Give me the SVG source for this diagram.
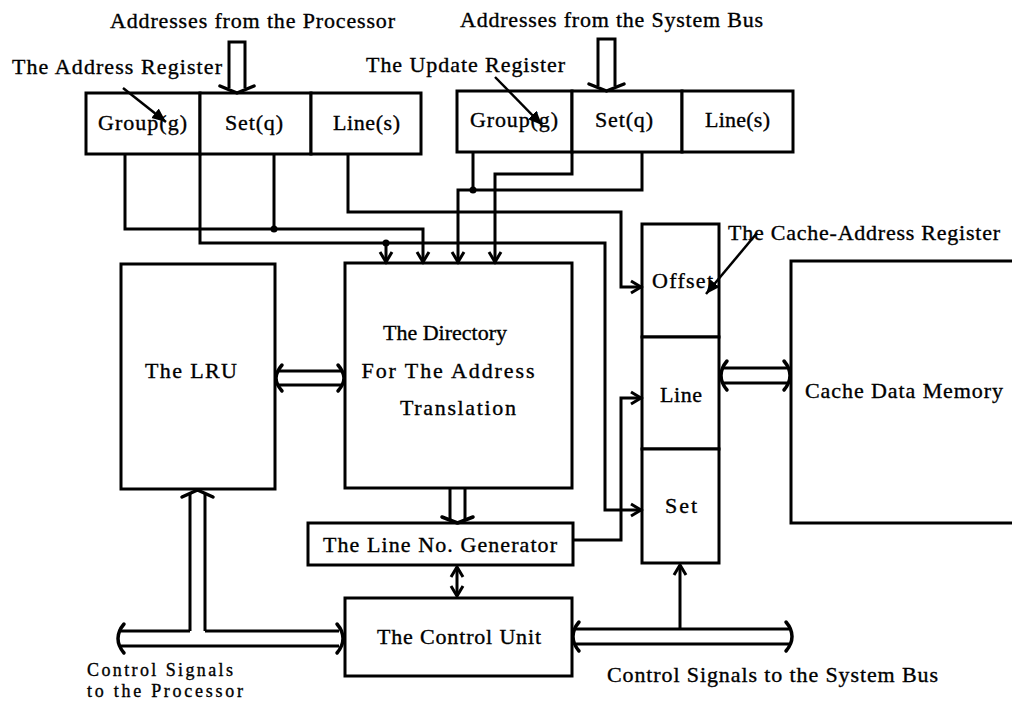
<svg xmlns="http://www.w3.org/2000/svg" width="1012" height="702" viewBox="0 0 1012 702">
<style>
  text { font-family: "Liberation Serif", "Times New Roman", serif; font-size: 22px; fill: #000; stroke: #000; stroke-width: 0.35; }
  .small { font-size: 18px; }
  .box { fill: #fff; stroke: #000; stroke-width: 3; }
  .wire { fill: none; stroke: #000; stroke-width: 3; }
  .bus { fill: none; stroke: #000; stroke-width: 3; }
  .head { fill: none; stroke: #000; stroke-width: 3.5; stroke-linejoin: round; stroke-linecap: round; }
  .ptr { fill: none; stroke: #000; stroke-width: 2.5; }
  .dot { fill: #000; }
</style>
<defs>
  <marker id="v" markerUnits="userSpaceOnUse" markerWidth="16" markerHeight="16" viewBox="0 0 16 16" refX="13" refY="8" orient="auto-start-reverse">
    <path d="M3,2 L13,8 L3,14" fill="none" stroke="#000" stroke-width="3"/>
  </marker>
  <marker id="tri" markerUnits="userSpaceOnUse" markerWidth="16" markerHeight="16" viewBox="0 0 16 16" refX="14" refY="8" orient="auto">
    <path d="M0,2 L14,8 L0,14 Z" fill="#000"/>
  </marker>
</defs>
<rect width="1012" height="702" fill="#fff"/>

<!-- Nodes -->
<g id="address-register">
  <rect class="box" x="86" y="93" width="114" height="61"/>
  <rect class="box" x="200" y="93" width="111" height="61"/>
  <rect class="box" x="311" y="93" width="110" height="61"/>
  <text x="98" y="130" textLength="89">Group(g)</text>
  <text x="225" y="130" textLength="58">Set(q)</text>
  <text x="333" y="130" textLength="67">Line(s)</text>
</g>
<g id="update-register">
  <rect class="box" x="457" y="91" width="115" height="61"/>
  <rect class="box" x="572" y="91" width="110" height="61"/>
  <rect class="box" x="682" y="91" width="111" height="61"/>
  <text x="470" y="127" textLength="88">Group(g)</text>
  <text x="595" y="127" textLength="58">Set(q)</text>
  <text x="705" y="127" textLength="65">Line(s)</text>
</g>
<g id="cache-address-register">
  <rect class="box" x="642" y="224" width="77" height="113"/>
  <rect class="box" x="642" y="337" width="77" height="112"/>
  <rect class="box" x="642" y="449" width="77" height="114"/>
  <text x="652" y="288" textLength="61">Offset</text>
  <text x="660" y="402" textLength="42">Line</text>
  <text x="665" y="513" textLength="32">Set</text>
</g>
<g id="cache-data-memory">
  <rect class="box" x="791" y="261" width="260" height="262"/>
  <text x="805" y="398" textLength="198">Cache Data Memory</text>
</g>
<g id="lru">
  <rect class="box" x="121" y="264" width="154" height="225"/>
  <text x="145" y="378" textLength="92">The LRU</text>
</g>
<g id="directory">
  <rect class="box" x="345" y="263" width="227" height="225"/>
  <text x="445" y="340" text-anchor="middle">The Directory</text>
  <text x="448" y="378" text-anchor="middle" textLength="173">For The Address</text>
  <text x="458" y="415" text-anchor="middle" textLength="116">Translation</text>
</g>
<g id="line-no-generator">
  <rect class="box" x="308" y="523" width="265" height="42"/>
  <text x="323" y="552" textLength="234">The Line No. Generator</text>
</g>
<g id="control-unit">
  <rect class="box" x="345" y="598" width="227" height="78"/>
  <text x="377" y="644" textLength="164">The Control Unit</text>
</g>

<!-- Labels -->
<g id="labels">
  <text x="110" y="28" textLength="285">Addresses from the Processor</text>
  <text x="12" y="74" textLength="210">The Address Register</text>
  <text x="460" y="27" textLength="303">Addresses from the System Bus</text>
  <text x="366" y="72" textLength="199">The Update Register</text>
  <text x="728" y="240" textLength="272">The Cache-Address Register</text>
  <text class="small" x="87" y="676" textLength="146">Control Signals</text>
  <text class="small" x="87" y="697" textLength="156">to the Processor</text>
  <text x="607" y="682" textLength="331">Control Signals to the System Bus</text>
</g>

<!-- Connectors -->
<g id="connectors">
  <path class="wire" d="M125,154 V229 H423 V262" marker-end="url(#v)"/>
  <path class="wire" d="M274,154 V229"/>
  <path class="wire" d="M200,154 V243 H605 V510 H641" marker-end="url(#v)"/>
  <path class="wire" d="M386,243 V262" marker-end="url(#v)"/>
  <path class="wire" d="M348,154 V212 H621 V287 H641" marker-end="url(#v)"/>
  <circle class="dot" cx="274" cy="229" r="3.5"/>
  <circle class="dot" cx="386" cy="243" r="3.5"/>
  <path class="wire" d="M473,152 V190"/>
  <path class="wire" d="M642,152 V190 H458 V262" marker-end="url(#v)"/>
  <path class="wire" d="M572,152 V174 H495 V262" marker-end="url(#v)"/>
  <circle class="dot" cx="473" cy="190" r="3.5"/>
  <path class="wire" d="M573,540 H621 V398 H641" marker-end="url(#v)"/>
  <path class="wire" d="M457,567 V596" marker-start="url(#v)" marker-end="url(#v)"/>
  <path class="wire" d="M680,629 V565" marker-end="url(#v)"/>

  <path class="bus" d="M229,88 V42 H245 V88"/>
  <path class="head" d="M220,86 L237,93 L254,86"/>
  <path class="bus" d="M598,86 V39 H615 V86"/>
  <path class="head" d="M589,84 L606.5,91 L624,84"/>

  <path class="bus" d="M279,371 H341 M279,385 H341"/>
  <path class="head" d="M282,365 Q276,372 276,378 Q276,384 282,391"/>
  <path class="head" d="M338,365 Q344,372 344,378 Q344,384 338,391"/>

  <path class="bus" d="M723,368 H787 M723,383 H787"/>
  <path class="head" d="M727,361 Q721,368 721,375.5 Q721,383 727,390"/>
  <path class="head" d="M784,361 Q790,368 790,375.5 Q790,383 784,390"/>

  <path class="bus" d="M450,489 V519 M465,489 V519"/>
  <path class="head" d="M442,517 L457.5,523 L473,517"/>

  <path class="bus" d="M121,631 H190 M205,631 H339 M121,646 H339"/>
  <path class="head" d="M124,624 Q118,631 118,638.5 Q118,646 124,653"/>
  <path class="head" d="M337,624 Q343,631 343,638.5 Q343,646 337,653"/>
  <path class="bus" d="M190,631 V494 M205,631 V494"/>
  <path class="head" d="M182,497 L197.5,490 L213,497"/>

  <path class="bus" d="M576,629 H789 M576,644 H789"/>
  <path class="head" d="M579,622 Q573,629 573,636.5 Q573,644 579,651"/>
  <path class="head" d="M786,622 Q792,629 792,636.5 Q792,644 786,651"/>

  <path class="ptr" d="M123,88 L166,122" marker-end="url(#tri)"/>
  <path class="ptr" d="M495,77 L542,125" marker-end="url(#tri)"/>
  <path class="ptr" d="M757,233 L706,294" marker-end="url(#tri)"/>
</g>
</svg>
